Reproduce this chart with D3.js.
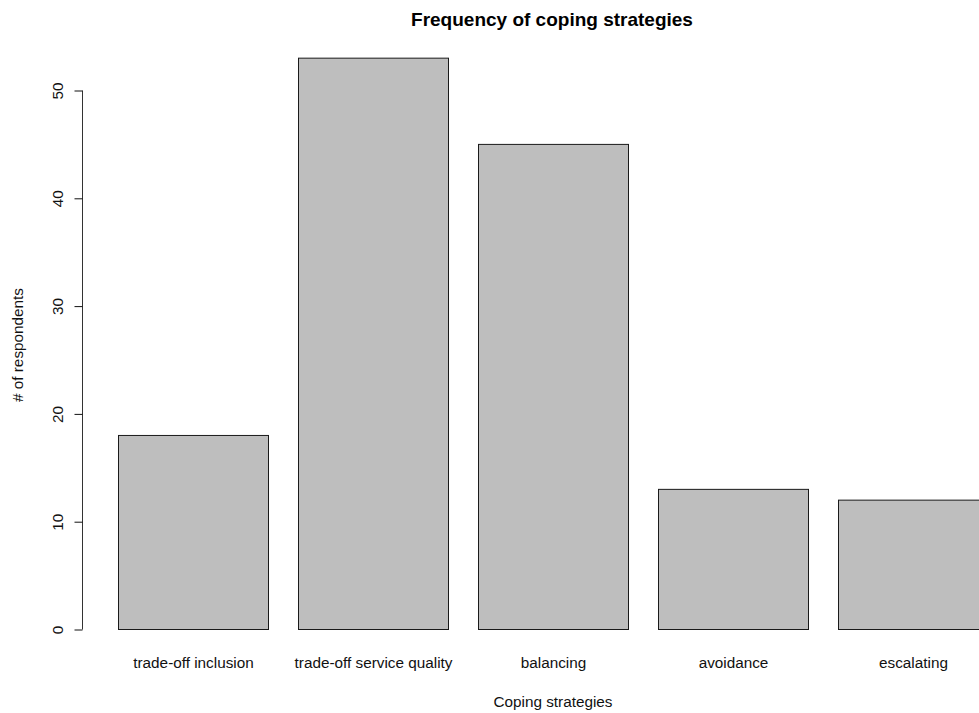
<!DOCTYPE html>
<html>
<head>
<meta charset="utf-8">
<script src="https://cdn.jsdelivr.net/npm/d3@7/dist/d3.min.js"></script>
<style>
  html, body { margin: 0; padding: 0; background: #fff; }
  svg { display: block; font-family: "Liberation Sans", Arial, sans-serif; }
</style>
</head>
<body>
<div id="chart"></div>
<script>
// Survey counts per coping strategy
const categories = ["trade-off inclusion", "trade-off service quality", "balancing", "avoidance", "escalating"];
const counts = [18, 53, 45, 13, 12];
const yTicks = [0, 10, 20, 30, 40, 50];

const width = 979, height = 713;
const fs = 15.3;
const svg = d3.select("#chart").append("svg")
  .attr("width", width).attr("height", height);

// Bar layout in base-graphics style: width 1, space 0.2 between bars
const barW = 1, space = 0.2;
const x = d3.scaleLinear().domain([0, 1]).range([88, 238]);
const y = d3.scaleLinear().domain([0, 50]).range([629, 90]);

const bars = categories.map((c, i) => ({
  name: c,
  value: counts[i],
  x0: space + i * (barW + space),
  x1: space + i * (barW + space) + barW
}));

svg.append("g").selectAll("rect").data(bars).enter().append("rect")
  .attr("x", d => x(d.x0) + 0.5)
  .attr("y", d => y(d.value) + 0.5)
  .attr("width", d => x(d.x1) - x(d.x0))
  .attr("height", d => y(0) - y(d.value))
  .attr("fill", "#bebebe")
  .attr("stroke", "#1a1a1a")
  .attr("stroke-width", 1);

// Category labels under bars
svg.append("g").selectAll("text").data(bars).enter().append("text")
  .attr("x", d => x((d.x0 + d.x1) / 2) + 0.5)
  .attr("y", 668)
  .attr("text-anchor", "middle")
  .attr("font-size", fs)
  .attr("fill", "#111")
  .text(d => d.name);

// Y axis (vertical tick labels, as in base graphics)
const yAxis = d3.axisLeft(y).tickValues(yTicks).tickSize(8).tickPadding(0);
const gy = svg.append("g").attr("transform", "translate(82.5,0.5)").call(yAxis);
gy.select(".domain").attr("stroke", "#333").attr("d", `M0,${y(0)}V${y(50)}`);
gy.selectAll(".tick line").attr("stroke", "#111");
gy.selectAll(".tick text").remove();
gy.selectAll(".tick").append("text")
  .attr("transform", "translate(-20,0) rotate(-90)")
  .attr("text-anchor", "middle")
  .attr("font-size", fs)
  .attr("fill", "#111")
  .text(d => d);

// Title and axis titles
svg.append("text")
  .attr("x", 552).attr("y", 26)
  .attr("text-anchor", "middle")
  .attr("font-size", 19)
  .attr("font-weight", "bold")
  .attr("fill", "#000")
  .text("Frequency of coping strategies");

svg.append("text")
  .attr("x", 553).attr("y", 707)
  .attr("text-anchor", "middle")
  .attr("font-size", fs)
  .attr("fill", "#111")
  .text("Coping strategies");

svg.append("text")
  .attr("transform", "translate(23,345) rotate(-90)")
  .attr("text-anchor", "middle")
  .attr("font-size", fs)
  .attr("fill", "#111")
  .text("# of respondents");
</script>
</body>
</html>
